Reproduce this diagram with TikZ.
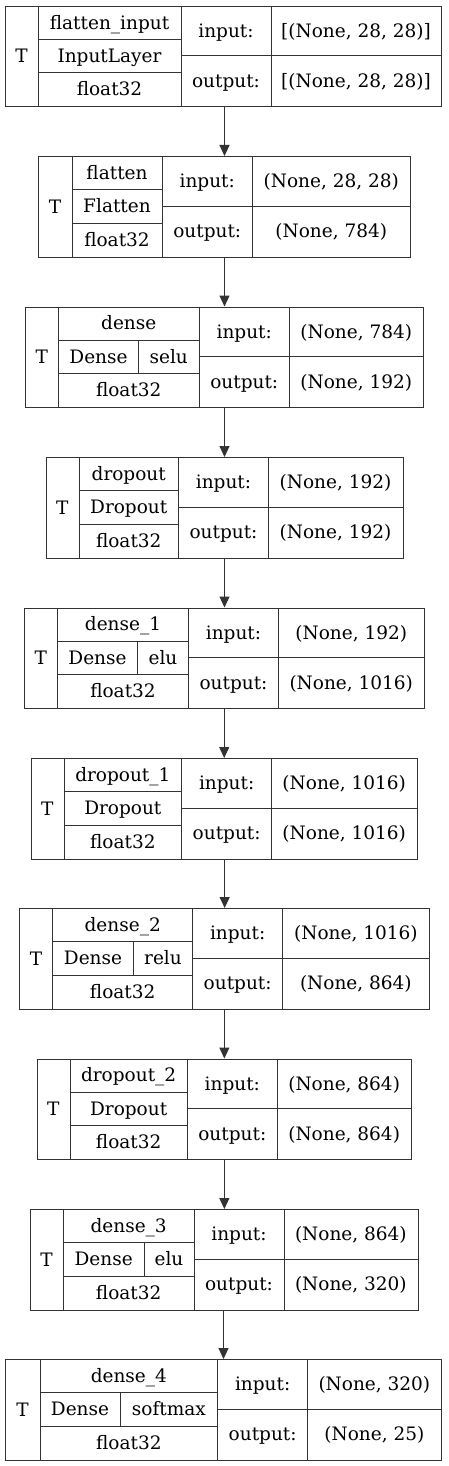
\documentclass[tikz,border=0pt]{standalone}
\usepackage{fontspec}
\setmainfont{DejaVu Serif}
\usetikzlibrary{arrows.meta}
\tikzset{
  ln/.style={draw=black!80, line width=1pt},
  box/.style={ln, rectangle, inner sep=0pt, anchor=north west},
  lbl/.style={anchor=base, inner sep=0pt, font=\fontsize{18.5}{22}\selectfont},
  conn/.style={ln, -{Triangle[length=11pt,width=10pt]}},
}
\newcommand\lbox[8]{%
  \def\bid{#1}\def\bt{#2}\def\bL{#3}\def\bx{#4}\def\bs{#5}\def\bc{#6}\def\bd{#7}\def\bR{#8}%
  \pgfmathsetmacro\bw{#8-#3}%
  \pgfmathsetmacro\bb{#2+100.5}%
  \node[box, minimum width=\bw pt, minimum height=100.5pt] (#1) at (#3,#2) {};
  \draw[ln] (#4,#2) -- (#4,\bb);
  \draw[ln] (#6,#2) -- (#6,\bb);
  \draw[ln] (#7,#2) -- (#7,\bb);
  \draw[ln] (#4,{#2+33.5}) -- (#6,{#2+33.5});
  \draw[ln] (#4,{#2+67}) -- (#6,{#2+67});
  \draw[ln] (#6,{#2+50}) -- (#8,{#2+50});
  \ifdim #5pt>0pt \draw[ln] (#5,{#2+33.5}) -- (#5,{#2+67});\fi
}
\newcommand\ltext[6]{% id name class act in out
  \node[lbl] (#1-t) at ({(\bL+\bx)/2},{\bt+57}) {T};
  \node[lbl] (#1-n) at ({(\bx+\bc)/2},{\bt+23.25}) {#2};
  \ifdim \bs pt>0pt
    \node[lbl] (#1-c) at ({(\bx+\bs)/2},{\bt+56.5}) {#3};
    \node[lbl] (#1-a) at ({(\bs+\bc)/2},{\bt+56.5}) {#4};
  \else
    \node[lbl] (#1-c) at ({(\bx+\bc)/2},{\bt+56.5}) {#3};
  \fi
  \node[lbl] (#1-f) at ({(\bx+\bc)/2},{\bt+90}) {float32};
  \node[lbl] (#1-il) at ({(\bc+\bd)/2},{\bt+31.5}) {input:};
  \node[lbl] (#1-ol) at ({(\bc+\bd)/2},{\bt+81.5}) {output:};
  \node[lbl] (#1-iv) at ({(\bd+\bR)/2},{\bt+31.5}) {#5};
  \node[lbl] (#1-ov) at ({(\bd+\bR)/2},{\bt+81.5}) {#6};
}
\begin{document}
\begin{tikzpicture}[x=1pt,y=-1pt]
\fill[white] (0,0) rectangle (448,1466);
\useasboundingbox (0,0) rectangle (448,1466);
\lbox{b1}{6}{5}{38}{0}{181}{271}{441}
\ltext{b1}{flatten\_input}{InputLayer}{}{[(None, 28, 28)]}{[(None, 28, 28)]}
\lbox{b2}{156}{38}{72}{0}{162}{252.5}{410}
\ltext{b2}{flatten}{Flatten}{}{(None, 28, 28)}{(None, 784)}
\lbox{b3}{306.5}{25}{58.5}{138.5}{199}{289.5}{423}
\ltext{b3}{dense}{Dense}{selu}{(None, 784)}{(None, 192)}
\lbox{b4}{457}{45.5}{79}{0}{178.5}{268.5}{402.5}
\ltext{b4}{dropout}{Dropout}{}{(None, 192)}{(None, 192)}
\lbox{b5}{607.5}{24}{57.5}{137.5}{188.5}{278.5}{424}
\ltext{b5}{dense\_1}{Dense}{elu}{(None, 192)}{(None, 1016)}
\lbox{b6}{758}{30.7}{64}{0}{181.7}{271.7}{416.7}
\ltext{b6}{dropout\_1}{Dropout}{}{(None, 1016)}{(None, 1016)}
\lbox{b7}{908}{19.3}{52.7}{133.3}{192.7}{282.7}{429}
\ltext{b7}{dense\_2}{Dense}{relu}{(None, 1016)}{(None, 864)}
\lbox{b8}{1058.5}{36.7}{70}{0}{187.3}{277.3}{411}
\ltext{b8}{dropout\_2}{Dropout}{}{(None, 864)}{(None, 864)}
\lbox{b9}{1209}{30}{63.3}{144}{194}{284}{417.7}
\ltext{b9}{dense\_3}{Dense}{elu}{(None, 864)}{(None, 320)}
\lbox{b10}{1359}{5}{40}{120}{217.7}{307.7}{441}
\ltext{b10}{dense\_4}{Dense}{softmax}{(None, 320)}{(None, 25)}
\foreach \i [evaluate=\i as \j using int(\i+1)] in {1,...,9}
  \draw[conn] (b\j.north |- b\i.south) -- (b\j.north);
\end{tikzpicture}
\end{document}
